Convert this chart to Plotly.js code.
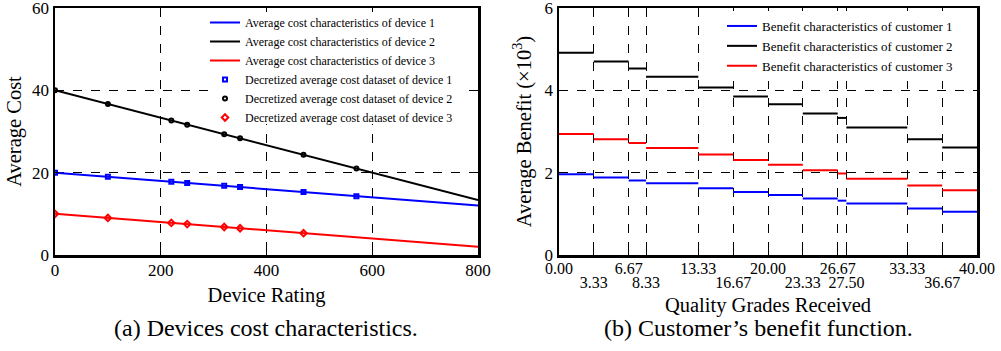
<!DOCTYPE html>
<html><head><meta charset="utf-8">
<script src="https://cdn.plot.ly/plotly-3.0.1.min.js"></script>
<style>html,body{margin:0;padding:0;background:#fff}#chart{width:1001px;height:351px}</style>
</head><body><div id="chart"></div>
<script>
// ---- Left panel data: device cost characteristics ----
const ratingLineX = [0, 800];
const costLine1 = [20, 12];
const costLine2 = [40, 13.33];
const costLine3 = [10, 2];
const sampleX = [0, 100, 220, 250, 320, 350, 470, 570];
const sampleX3 = [0, 100, 220, 250, 320, 350, 470];
const costSample1 = [20, 19, 17.8, 17.5, 16.8, 16.5, 15.3, 14.3];
const costSample2 = [40, 36.67, 32.67, 31.67, 29.33, 28.33, 24.33, 21];
const costSample3 = [10, 9, 7.8, 7.5, 6.8, 6.5, 5.3];

// ---- Right panel data: customer benefit (x10^3) ----
const gradeBreaks = [0, 3.33, 6.67, 8.33, 13.33, 16.67, 20, 23.33, 26.67, 27.5, 33.33, 36.67, 40];
const gradeTicksRow1 = [0, 6.67, 13.33, 20, 26.67, 33.33, 40];
const gradeTextRow1 = ['0.00', '6.67', '13.33', '20.00', '26.67', '33.33', '40.00'];
const gradeTicksRow2 = [3.33, 8.33, 16.67, 23.33, 27.5, 36.67];
const gradeTextRow2 = ['3.33', '8.33', '16.67', '23.33', '27.50', '36.67'];
const benefit1 = [1.96, 1.88, 1.81, 1.74, 1.62, 1.53, 1.46, 1.37, 1.32, 1.25, 1.13, 1.05];
const benefit2 = [4.91, 4.70, 4.53, 4.33, 4.07, 3.85, 3.66, 3.44, 3.33, 3.10, 2.81, 2.61];
const benefit3 = [2.94, 2.81, 2.72, 2.60, 2.44, 2.31, 2.19, 2.06, 1.98, 1.85, 1.69, 1.57];

function steps(vals) {
  const x = [], y = [];
  vals.forEach((v, i) => { x.push(gradeBreaks[i], gradeBreaks[i+1], null); y.push(v, v, null); });
  return {x, y};
}

const FONT = 'Liberation Serif, Times New Roman, serif';
const BLUE = '#0000ff', RED = '#ff0000', BLACK = '#000000';

const traces = [
  {x: ratingLineX, y: costLine1, mode: 'lines', line: {color: BLUE, width: 2}, name: 'Average cost characteristics of device 1', xaxis: 'x', yaxis: 'y', legend: 'legend'},
  {x: ratingLineX, y: costLine2, mode: 'lines', line: {color: BLACK, width: 2}, name: 'Average cost characteristics of device 2', xaxis: 'x', yaxis: 'y', legend: 'legend'},
  {x: ratingLineX, y: costLine3, mode: 'lines', line: {color: RED, width: 2}, name: 'Average cost characteristics of device 3', xaxis: 'x', yaxis: 'y', legend: 'legend'},
  {x: sampleX, y: costSample1, mode: 'markers', marker: {symbol: 'square-open', color: BLUE, size: 4, line: {width: 2, color: BLUE}}, name: 'Decretized average cost dataset of device 1', xaxis: 'x', yaxis: 'y', legend: 'legend'},
  {x: sampleX, y: costSample2, mode: 'markers', marker: {symbol: 'circle-open', color: BLACK, size: 4, line: {width: 2, color: BLACK}}, name: 'Decretized average cost dataset of device 2', xaxis: 'x', yaxis: 'y', legend: 'legend'},
  {x: sampleX3, y: costSample3, mode: 'markers', marker: {symbol: 'diamond-open', color: RED, size: 5, line: {width: 2, color: RED}}, name: 'Decretized average cost dataset of device 3', xaxis: 'x', yaxis: 'y', legend: 'legend'},
];
[[benefit1, BLUE, 1], [benefit2, BLACK, 2], [benefit3, RED, 3]].forEach(([vals, c, k]) => {
  const s = steps(vals);
  traces.push({x: s.x, y: s.y, mode: 'lines', connectgaps: false, line: {color: c, width: 2},
    name: 'Benefit characteristics of customer ' + k, xaxis: 'x2', yaxis: 'y2', legend: 'legend2'});
});
// empty trace so the second-row tick axis exists
traces.push({x: [], y: [], xaxis: 'x3', yaxis: 'y2', showlegend: false, mode: 'lines'});

const W = 1001, H = 351;
const axCommon = {
  showline: true, mirror: 'ticks', linecolor: BLACK, linewidth: 2.5,
  ticks: 'inside', ticklen: 4, tickcolor: BLACK, tickwidth: 1,
  showgrid: true, gridcolor: BLACK, gridwidth: 1, griddash: 'dash',
  zeroline: false, tickfont: {family: FONT, size: 17, color: BLACK}, automargin: false,
  ticklabeloverflow: 'allow', tickangle: 0
};
const yDom = [(H - 255) / H, (H - 8) / H];
const TITLE_SIZE = 20.5;

const layout = {
  width: W, height: H, margin: {l: 0, r: 0, t: 0, b: 0},
  paper_bgcolor: '#fff', plot_bgcolor: '#fff',
  font: {family: FONT, color: BLACK},
  xaxis: Object.assign({}, axCommon, {domain: [55 / W, 478 / W], range: [0, 800], tickvals: [0, 200, 400, 600, 800],
    ticklabelstandoff: -2,
    title: {text: 'Device Rating', font: {family: FONT, size: TITLE_SIZE}, standoff: 9}, anchor: 'y'}),
  yaxis: Object.assign({}, axCommon, {domain: yDom, range: [0, 60], tickvals: [0, 20, 40, 60],
    title: {text: 'Average Cost', font: {family: FONT, size: TITLE_SIZE}, standoff: 5}, anchor: 'x'}),
  xaxis2: Object.assign({}, axCommon, {domain: [559 / W, 977 / W], range: [0, 40], tickvals: gradeTicksRow1, ticktext: gradeTextRow1,
    tickfont: {family: FONT, size: 16, color: BLACK}, ticklabelstandoff: -3,
    title: {text: 'Quality Grades Received', font: {family: FONT, size: TITLE_SIZE}, standoff: 22}, anchor: 'y2'}),
  xaxis3: Object.assign({}, axCommon, {domain: [559 / W, 977 / W], range: [0, 40], tickvals: gradeTicksRow2, ticktext: gradeTextRow2,
    tickfont: {family: FONT, size: 16, color: BLACK}, overlaying: 'x2', anchor: 'y2', side: 'bottom',
    ticklabelstandoff: 16, showline: false}),
  yaxis2: Object.assign({}, axCommon, {domain: yDom, range: [0, 6], tickvals: [0, 2, 4, 6],
    title: {text: 'Average Benefit (×10<sup>3</sup>)', font: {family: FONT, size: TITLE_SIZE}, standoff: 8}, anchor: 'x2'}),
  legend: {x: 205 / W, xanchor: 'left', y: 1 - 8 / H, yanchor: 'top', bgcolor: 'rgba(255,255,255,0)', borderwidth: 0,
    font: {family: FONT, size: 12, color: BLACK}, tracegroupgap: 0},
  legend2: {x: 722 / W, xanchor: 'left', y: 1 - 11 / H, yanchor: 'top', bgcolor: '#fff', borderwidth: 0,
    font: {family: FONT, size: 13, color: BLACK}, tracegroupgap: 0},
  showlegend: true,
  shapes: [
    // white backing behind the left legend (above grid, below traces)
    {type: 'rect', xref: 'x', yref: 'y', x0: 305, x1: 778, y0: 31.8, y1: 59.2, fillcolor: '#fff', line: {width: 0}, layer: 'between'}
  ],
  annotations: [
    {text: '(a) Devices cost characteristics.', xref: 'paper', yref: 'paper', x: 266 / W, y: 1 - 328 / H, xanchor: 'center', yanchor: 'middle', showarrow: false, font: {family: FONT, size: 24, color: BLACK}},
    {text: '(b) Customer’s benefit function.', xref: 'paper', yref: 'paper', x: 758 / W, y: 1 - 328 / H, xanchor: 'center', yanchor: 'middle', showarrow: false, font: {family: FONT, size: 24, color: BLACK}}
  ]
};

Plotly.newPlot('chart', traces, layout, {staticPlot: true, displayModeBar: false});
</script></body></html>
